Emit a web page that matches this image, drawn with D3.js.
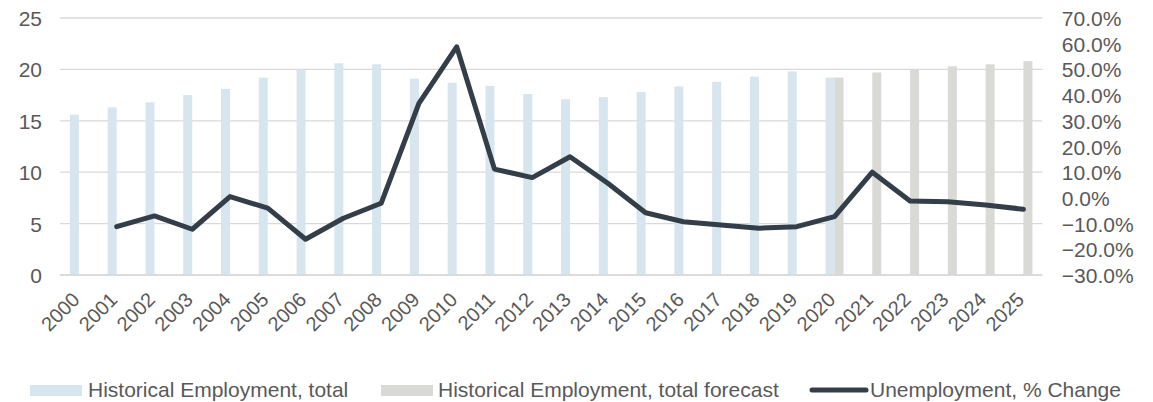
<!DOCTYPE html>
<html>
<head>
<meta charset="utf-8">
<script src="https://cdn.jsdelivr.net/npm/d3@7"></script>
<style>
  html, body { margin: 0; padding: 0; background: #fff; }
  svg { display: block; font-family: "Liberation Sans", Arial, sans-serif; }
</style>
</head>
<body>
<svg id="chart" width="1153" height="402"></svg>
<script>
const years = ["2000","2001","2002","2003","2004","2005","2006","2007","2008","2009","2010","2011","2012","2013","2014","2015","2016","2017","2018","2019","2020","2021","2022","2023","2024","2025"];
const historical = [15.6,16.3,16.8,17.5,18.1,19.2,20.0,20.6,20.5,19.1,18.7,18.4,17.6,17.1,17.3,17.8,18.35,18.8,19.3,19.8,19.2,null,null,null,null,null];
const forecast = [null,null,null,null,null,null,null,null,null,null,null,null,null,null,null,null,null,null,null,null,19.2,19.7,20.0,20.3,20.5,20.8];
const unemploymentChange = [null,-11.2,-7.0,-12.2,0.5,-4.0,-16.1,-7.9,-2.1,36.8,58.8,11.2,7.9,16.0,5.7,-5.8,-9.3,-10.5,-11.8,-11.2,-7.3,10.0,-1.2,-1.5,-2.8,-4.4];
const leftTicks = [0,5,10,15,20,25];
const rightTicks = [-30,-20,-10,0,10,20,30,40,50,60,70];
const seriesNames = ["Historical Employment, total","Historical Employment, total forecast","Unemployment, % Change"];

const colors = { hist: "#d7e5ef", fore: "#d9d9d5", line: "#333e48", grid: "#d9d9d9", text: "#595959" };

const svg = d3.select("#chart");
const mLeft = 60, mRight = 1042.3, mTop = 18, mBottom = 275;

const x0 = d3.scaleBand().domain(years).range([mLeft, mRight]).padding(0);
const step = x0.step();
const x1 = d3.scaleBand().domain(["hist","fore"]).range([step/2 - 9, step/2 + 9]).padding(0);
const yL = d3.scaleLinear().domain([0,25]).range([mBottom, mTop]);
const yR = d3.scaleLinear().domain([-30,70]).range([mBottom, mTop]);

// gridlines
svg.append("g").selectAll("line").data(leftTicks).join("line")
  .attr("x1", mLeft).attr("x2", mRight)
  .attr("y1", d => yL(d)).attr("y2", d => yL(d))
  .attr("stroke", colors.grid).attr("stroke-width", 1.3);

// left axis labels
const axL = svg.append("g").attr("transform", `translate(${mLeft},0)`)
  .call(d3.axisLeft(yL).tickValues(leftTicks).tickSize(0).tickPadding(18).tickFormat(d3.format("d")));
axL.select(".domain").remove();
axL.selectAll("text").attr("fill", colors.text).style("font-size", "21px").attr("dy", "0.36em");

// right axis labels
const axR = svg.append("g").attr("transform", `translate(${mRight},0)`)
  .call(d3.axisRight(yR).tickValues(rightTicks).tickSize(0).tickPadding(19.5).tickFormat(d => d3.format(".1f")(d) + "%"));
axR.select(".domain").remove();
axR.selectAll("text").attr("fill", colors.text).style("font-size", "21px").attr("dy", "0.36em");

// bars
const barData = [];
years.forEach((y, i) => {
  if (historical[i] != null) barData.push({ year: y, key: "hist", v: historical[i] });
  if (forecast[i] != null) barData.push({ year: y, key: "fore", v: forecast[i] });
});
svg.append("g").selectAll("rect").data(barData).join("rect")
  .attr("x", d => x0(d.year) + x1(d.key))
  .attr("width", x1.bandwidth())
  .attr("y", d => yL(d.v))
  .attr("height", d => yL(0) - yL(d.v))
  .attr("fill", d => d.key === "hist" ? colors.hist : colors.fore);

// baseline
svg.append("line").attr("x1", mLeft).attr("x2", mRight).attr("y1", yL(0)).attr("y2", yL(0))
  .attr("stroke", colors.grid).attr("stroke-width", 1.5);

// x labels
const axB = svg.append("g").attr("transform", `translate(0,${mBottom})`)
  .call(d3.axisBottom(x0).tickSize(0).tickFormat(d => d));
axB.select(".domain").remove();
axB.selectAll(".tick text")
  .attr("fill", colors.text).style("font-size", "20px")
  .attr("text-anchor", "end")
  .attr("y", 0).attr("dy", 0)
  .attr("transform", "translate(2,26) rotate(-45)");

// line
const lineData = years.map((y, i) => ({ year: y, v: unemploymentChange[i] }));
const line = d3.line()
  .defined(d => d.v != null)
  .x(d => x0(d.year) + step/2)
  .y(d => yR(d.v));
svg.append("path").datum(lineData)
  .attr("d", line)
  .attr("fill", "none").attr("stroke", colors.line).attr("stroke-width", 5)
  .attr("stroke-linejoin", "round").attr("stroke-linecap", "round");

// legend
const lg = svg.append("g").style("font-size", "21px").attr("fill", colors.text);
lg.append("rect").attr("x", 30).attr("y", 385).attr("width", 52).attr("height", 11).attr("fill", colors.hist);
lg.append("text").attr("x", 88).attr("y", 396.5).text(seriesNames[0]);
lg.append("rect").attr("x", 381).attr("y", 385).attr("width", 52).attr("height", 11).attr("fill", colors.fore);
lg.append("text").attr("x", 438).attr("y", 396.5).text(seriesNames[1]);
lg.append("line").attr("x1", 812).attr("x2", 866).attr("y1", 390).attr("y2", 390)
  .attr("stroke", colors.line).attr("stroke-width", 5).attr("stroke-linecap", "round");
lg.append("text").attr("x", 870).attr("y", 396.5).text(seriesNames[2]);
</script>
</body>
</html>
